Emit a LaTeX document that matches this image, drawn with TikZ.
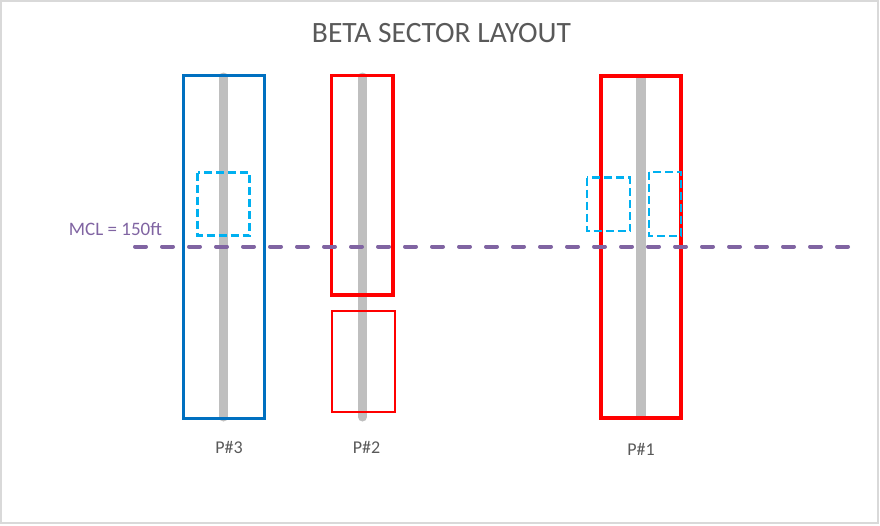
\documentclass[tikz,border=0pt]{standalone}
\usepackage{fontspec}
\setmainfont{Carlito}
\usetikzlibrary{positioning}
\definecolor{poleblue}{HTML}{0070C0}
\definecolor{polered}{HTML}{FF0000}
\definecolor{polegray}{HTML}{BFBFBF}
\definecolor{zonecyan}{HTML}{00B0F0}
\definecolor{mclpurple}{HTML}{8064A2}
\definecolor{labelgray}{HTML}{595959}
\definecolor{framegray}{HTML}{D9D9D9}

\begin{document}
\begin{tikzpicture}[x=1pt,y=-1pt,
  pole/.style={line width=9pt,polegray},
  zone/.style={line width=2.2pt,zonecyan,dash pattern=on 8pt off 4pt},
  polelabel/.style={text=labelgray,font=\fontsize{18}{20}\selectfont}]
  \useasboundingbox (0,0) rectangle (880,525);
  \draw[framegray,line width=1.5pt] (1,1) rectangle (878,523);
  \node[text=labelgray,font=\fontsize{29.5}{33}\selectfont] (title) at (441.5,33) {BETA SECTOR LAYOUT};
  % poles
  \draw[pole,line cap=round] (223.5,77) -- (223.5,417);
  \draw[pole,line cap=round] (362.5,77) -- (362.5,417);
  \draw[pole,line width=10pt] (640.5,77) -- (640.5,417);
  % sectors
  \draw[poleblue,line width=3pt] (183,75) rectangle (264,418);
  \draw[polered,line width=3.5pt] (331.5,75.5) rectangle (393,295);
  \draw[polered,line width=2pt] (332,311) rectangle (394.5,412);
  \draw[polered,line width=4pt] (601,76) rectangle (680.5,418);
  % zones
  \draw[zone] (197.5,172.5) rectangle (249.5,235.5);
  \draw[zone] (587,177.5) rectangle (630,231);
  \draw[zone] (649,172) rectangle (681,236);
  % MCL
  \draw[mclpurple,line width=4pt,line cap=round,dash pattern=on 11pt off 16pt] (135,246.5) -- (850,246.5);
  \node[text=mclpurple,font=\fontsize{19}{21}\selectfont] (mcl) at (115.5,229) {MCL = 150ft};
  % labels
  \node[polelabel] (p3) at (229,447) {P\#3};
  \node[polelabel] (p2) at (366.5,447) {P\#2};
  \node[polelabel] (p1) at (641,449) {P\#1};
\end{tikzpicture}
\end{document}
